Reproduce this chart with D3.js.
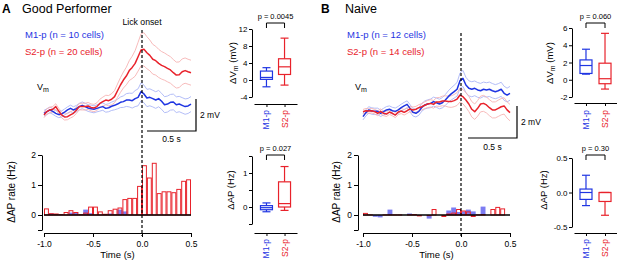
<!DOCTYPE html>
<html lang="en">
<head>
<meta charset="UTF-8">
<title>Vm and AP rate around lick onset</title>
<script src="https://d3js.org/d3.v7.min.js"></script>
<style>
  body { margin: 0; background: #fff; }
  svg { display: block; font-family: "Liberation Sans", Arial, sans-serif; }
</style>
</head>
<body>
<svg width="617" height="261"></svg>
<script>

// time of the averaged Vm samples (s, relative to lick onset)
var vmTime = [-1.00,-0.97,-0.94,-0.91,-0.88,-0.85,-0.82,-0.79,-0.76,-0.73,-0.70,-0.67,-0.64,-0.61,-0.58,-0.55,-0.52,
  -0.49,-0.46,-0.43,-0.40,-0.37,-0.34,-0.31,-0.28,-0.25,-0.22,-0.19,-0.16,-0.13,-0.10,-0.07,-0.04,-0.01,
  0.02,0.05,0.08,0.11,0.14,0.17,0.20,0.23,0.26,0.29,0.32,0.35,0.38,0.41,0.44,0.47,0.50];

// A, good performer: mean Vm (mV) and SEM
var vmA_M1 = [-0.02,0.09,0.19,0.10,-0.02,-0.10,-0.06,0.06,0.19,0.29,0.19,0.27,0.40,0.48,0.40,0.31,0.27,0.23,0.29,0.35,
  0.40,0.29,0.33,0.42,0.48,0.56,0.67,0.71,0.81,0.81,0.77,0.90,0.98,1.33,1.19,0.94,0.98,0.90,0.81,0.90,0.73,0.52,
  0.56,0.67,0.69,0.52,0.56,0.48,0.40,0.44,0.56];
var semA_M1 = [0.18,0.18,0.18,0.18,0.18,0.19,0.19,0.19,0.19,0.2,0.2,0.2,0.2,0.21,0.21,0.21,0.22,0.22,0.22,0.23,
  0.23,0.24,0.25,0.26,0.28,0.3,0.33,0.36,0.4,0.43,0.46,0.5,0.53,0.56,0.55,0.54,0.53,0.52,0.52,0.51,
  0.5,0.5,0.5,0.49,0.49,0.49,0.48,0.48,0.48,0.47,0.47];
var vmA_S2 = [-0.12,0.09,0.19,0.23,0.40,0.12,-0.12,-0.25,-0.23,-0.12,-0.02,0.17,0.40,0.40,0.40,0.44,0.35,0.31,0.40,
  0.60,0.71,0.81,0.77,0.86,1.02,1.39,1.75,2.06,2.31,2.65,2.85,3.10,3.52,3.94,3.98,3.77,3.60,3.36,3.27,3.10,2.98,
  2.90,2.79,2.69,2.52,2.37,2.39,2.58,2.65,2.58,2.52];
var semA_S2 = [0.17,0.17,0.17,0.18,0.18,0.18,0.18,0.19,0.19,0.19,0.2,0.2,0.2,0.21,0.21,0.22,0.22,0.23,0.24,0.26,
  0.28,0.3,0.32,0.35,0.38,0.42,0.46,0.5,0.55,0.62,0.7,0.8,0.9,1.0,1.04,1.0,0.96,0.93,0.9,0.88,
  0.86,0.85,0.84,0.83,0.82,0.81,0.8,0.8,0.79,0.78,0.78];

// B, naive
var vmB_M1 = [-0.29,-0.04,0.13,0.06,0.04,0.04,-0.08,0.02,0.13,0.17,0.08,0.04,0.13,0.27,0.38,0.48,0.23,-0.02,-0.08,
  0.04,0.29,0.44,0.50,0.54,0.65,0.58,0.50,0.58,0.75,0.96,1.13,1.27,1.42,1.96,2.10,1.69,1.48,1.42,1.48,1.38,1.33,
  1.42,1.38,1.42,1.33,1.27,1.33,1.42,1.17,1.06,1.17];
var semB_M1 = [0.2,0.2,0.2,0.2,0.2,0.2,0.2,0.21,0.21,0.21,0.21,0.21,0.22,0.22,0.22,0.22,0.23,0.23,0.23,0.24,
  0.24,0.25,0.26,0.27,0.28,0.29,0.3,0.32,0.34,0.36,0.38,0.4,0.43,0.48,0.5,0.48,0.47,0.47,0.46,0.46,
  0.46,0.45,0.45,0.45,0.45,0.44,0.44,0.44,0.44,0.43,0.43];
var vmB_S2 = [0.02,0.08,0.06,0.08,0.02,-0.08,0.04,-0.08,-0.13,0.00,-0.08,-0.19,0.00,0.06,-0.02,0.08,0.19,0.13,0.17,
  0.27,0.33,0.42,0.50,0.54,0.48,0.63,0.63,0.69,0.69,0.65,0.65,0.71,0.81,1.06,0.96,0.75,0.50,0.17,0.02,0.23,0.50,
  0.54,0.44,0.27,0.13,0.13,0.23,0.33,0.38,0.13,-0.04];
var semB_S2 = [0.14,0.14,0.14,0.14,0.14,0.15,0.15,0.15,0.15,0.15,0.16,0.16,0.16,0.16,0.17,0.17,0.17,0.18,0.18,0.19,
  0.2,0.21,0.22,0.23,0.24,0.26,0.28,0.3,0.32,0.34,0.36,0.38,0.4,0.43,0.45,0.46,0.47,0.48,0.48,0.49,
  0.49,0.5,0.5,0.5,0.5,0.5,0.51,0.51,0.51,0.51,0.51];

// AP rate histograms, 50 ms bins starting at these times (s)
var binStart = [-1.00,-0.95,-0.90,-0.85,-0.80,-0.75,-0.70,-0.65,-0.60,-0.55,-0.50,-0.45,-0.40,-0.35,-0.30,
  -0.25,-0.20,-0.15,-0.10,-0.05,0.00,0.05,0.10,0.15,0.20,0.25,0.30,0.35,0.40,0.45];
var apA_M1 = [0,0.05,0.03,0.02,0,0.08,0.10,0,0.18,0.06,0,0,0,0.05,0.02,0.18,0.12,0,0,0,0.02,0.01,0,0,0,0,0,0,0,0];
var apA_S2 = [0.22,0.06,0.05,0.03,0.10,0.16,0.10,0.03,0.08,0.28,0.28,0.12,0.04,0.16,0.21,0.25,0.53,0.57,0.57,0.97,
  1.66,1.25,1.74,0.73,0.79,0.79,0.76,0.87,1.14,1.19];
var apB_M1 = [0,0,-0.06,-0.08,0,0.18,0,0,0,0.05,0,-0.02,0,-0.12,0,0,0,0.15,0.25,0.10,0.12,0.18,0.12,0,0.28,0,0,0,0,0];
var apB_S2 = [0.07,0.02,0,0,0.02,0.02,0.02,0.02,0,0.02,0.03,-0.03,0,-0.02,0.2,0,-0.05,0.05,0.08,0.2,
  0.15,0.12,-0.05,0.02,0.03,0,0.2,0.27,0.22,0];

// box plots: [min, q1, median, q3, max]
var groups = ["M1-p", "S2-p"];
var boxVmA_M1 = [-1.6, 0.15, 0.6, 2.1, 2.9];
var boxVmA_S2 = [-1.2, 1.3, 3.1, 5.0, 9.85];
var boxApA_M1 = [-0.14, -0.08, -0.02, 0.04, 0.12];
var boxApA_S2 = [-0.1, 0, 0.1, 0.74, 1.19];
var boxVmB_M1 = [0.65, 0.73, 1.65, 2.3, 3.54];
var boxVmB_S2 = [-1.08, -0.46, 0.12, 1.92, 5.38];
var boxApB_M1 = [-0.19, -0.1, 0, 0.05, 0.25];
var boxApB_S2 = [-0.33, -0.13, 0, 0, 0];
var pVals = ["p = 0.0045", "p = 0.027", "p = 0.060", "p = 0.30"];

var blue = "#1f35e2", blueLight = "#aab6f6";
var red = "#e8222b", redLight = "#f6b3b3";
var histBlue = "#7c7cf2";

var svg = d3.select("svg");

function styleAxis(g, fs) {
    g.attr("font-family", null).attr("font-size", fs);
    g.selectAll("path, line").attr("stroke", "#000").attr("stroke-width", 1);
    g.selectAll("text").attr("fill", "#000");
}

function drawPanel(p) {
    var x = d3.scaleLinear().domain([-1, 0.5]).range([p.x0, p.x0 + 147]);
    var yVm = d3.scaleLinear().domain([0, 2]).range([p.vm0, p.vm0 - 32]);
    var yAp = d3.scaleLinear().domain([-0.5, 2]).range([230, 155]);
    var g = svg.append("g");

    g.append("text").attr("x", p.letterX).attr("y", 13)
        .attr("font-size", 12).attr("font-weight", "bold").text(p.letter);
    g.append("text").attr("x", p.titleX).attr("y", 13)
        .attr("font-size", 12.5).text(p.title);

    g.append("text").attr("x", p.legendX).attr("y", 38).attr("font-size", 9.5)
        .attr("fill", blue).text("M1-p (n = " + p.n[0] + " cells)");
    g.append("text").attr("x", p.legendX).attr("y", 55).attr("font-size", 9.5)
        .attr("fill", red).text("S2-p (n = " + p.n[1] + " cells)");

    if (p.lick) {
        g.append("text").attr("x", x(0)).attr("y", 25).attr("font-size", 8.7)
            .attr("text-anchor", "middle").text("Lick onset");
    }

    var vl = g.append("text").attr("x", p.vmLabelX).attr("y", 90).attr("font-size", 9);
    vl.append("tspan").text("V");
    vl.append("tspan").attr("font-size", 7).attr("dy", 2).text("m");

    // Vm traces: SEM as thin pale lines, mean on top
    var line = d3.line().x(function (d, i) { return x(vmTime[i]); }).y(function (d) { return yVm(d); });
    var traces = [[p.vmM1, p.semM1, blue, blueLight], [p.vmS2, p.semS2, red, redLight]];
    traces.forEach(function (t) {
        var up = t[0].map(function (m, i) { return m + t[1][i]; });
        var lo = t[0].map(function (m, i) { return m - t[1][i]; });
        [up, lo].forEach(function (s) {
            g.append("path").datum(s).attr("d", line).attr("fill", "none")
                .attr("stroke", t[3]).attr("stroke-width", 0.9);
        });
    });
    traces.forEach(function (t) {
        g.append("path").datum(t[0]).attr("d", line).attr("fill", "none")
            .attr("stroke", t[2]).attr("stroke-width", 1.5).attr("stroke-linejoin", "round");
    });

    // scale bar
    var w = x(0.5) - x(0), h = yVm(0) - yVm(2);
    var sb = p.scaleBar;
    g.append("path").attr("d", "M" + (sb.x - w) + "," + sb.y + "H" + sb.x + "V" + (sb.y - h))
        .attr("fill", "none").attr("stroke", "#000").attr("stroke-width", 1.2);
    g.append("text").attr("x", sb.x + 4).attr("y", sb.y - h / 2 + 3).attr("font-size", 8.5).text("2 mV");
    g.append("text").attr("x", sb.x - w / 2).attr("y", sb.textY).attr("font-size", 8.5)
        .attr("text-anchor", "middle").text("0.5 s");

    // AP rate histogram
    var bw = x(-0.95) - x(-1);
    g.append("g").selectAll("rect").data(p.apM1).join("rect")
        .attr("x", function (d, i) { return x(binStart[i]); })
        .attr("width", bw)
        .attr("y", function (d) { return yAp(Math.max(0, d)); })
        .attr("height", function (d) { return Math.abs(yAp(d) - yAp(0)); })
        .attr("fill", histBlue);
    g.append("g").selectAll("rect").data(p.apS2).join("rect")
        .attr("x", function (d, i) { return x(binStart[i]) + 0.5; })
        .attr("width", bw - 1)
        .attr("y", function (d) { return yAp(Math.max(0, d)) + 0.5; })
        .attr("height", function (d) { return Math.max(0, Math.abs(yAp(d) - yAp(0)) - 0.5); })
        .attr("fill", "none").attr("stroke", red).attr("stroke-width", 1)
        .attr("display", function (d) { return d === 0 ? "none" : null; });
    g.append("line").attr("x1", x(-1)).attr("x2", x(0.5)).attr("y1", yAp(0)).attr("y2", yAp(0))
        .attr("stroke", "#000").attr("stroke-width", 1.3);

    var ya = g.append("g").attr("transform", "translate(" + p.histAxisX + ",0)")
        .call(d3.axisLeft(yAp).tickValues([-0.5, 0, 1, 2]).tickSize(4).tickSizeOuter(0).tickPadding(2)
            .tickFormat(function (d) { return d === -0.5 ? "" : d; }));
    styleAxis(ya, 8.5);
    var xa = g.append("g").attr("transform", "translate(0,233)")
        .call(d3.axisBottom(x).tickValues([-1, -0.5, 0, 0.5]).tickSize(4).tickSizeOuter(0).tickPadding(4)
            .tickFormat(function (d) { return d.toFixed(1); }));
    styleAxis(xa, 8.5);

    g.append("text").attr("x", (x(-1) + x(0.5)) / 2).attr("y", 258).attr("font-size", 9.5)
        .attr("text-anchor", "middle").text("Time (s)");
    g.append("text").attr("transform", "translate(" + p.histLabelX + ",192) rotate(-90)")
        .attr("font-size", 10).attr("text-anchor", "middle").text("\u0394AP rate (Hz)");

    // lick onset marker
    g.append("line").attr("x1", x(0)).attr("x2", x(0)).attr("y1", p.dashTop).attr("y2", 236)
        .attr("stroke", "#000").attr("stroke-width", 1.2).attr("stroke-dasharray", "3,2");
}

function drawBoxes(b) {
    var g = svg.append("g");
    var y = d3.scaleLinear().domain(b.yDomain).range(b.yRange);
    var xb = d3.scalePoint().domain(groups).range(b.xRange).padding(b.pad);

    var ya = g.append("g").attr("transform", "translate(" + b.axisX + ",0)")
        .call(d3.axisLeft(y).tickValues(b.ticks).tickSize(3).tickSizeOuter(0).tickPadding(1.5)
            .tickFormat(b.fmt));
    styleAxis(ya, 8);
    var xa = g.append("g").attr("transform", "translate(0," + b.xAxisY + ")")
        .call(d3.axisBottom(xb).tickSize(3).tickSizeOuter(0).tickFormat(""));
    styleAxis(xa, 8);

    [[b.stats[0], blue], [b.stats[1], red]].forEach(function (s, i) {
        var c = xb(groups[i]), st = s[0], bw = 12, cw = 8;
        var bg = g.append("g").attr("stroke", s[1]).attr("stroke-width", 1.2).attr("fill", "none");
        bg.append("line").attr("x1", c).attr("x2", c).attr("y1", y(st[3])).attr("y2", y(st[4]));
        bg.append("line").attr("x1", c).attr("x2", c).attr("y1", y(st[1])).attr("y2", y(st[0]));
        bg.append("line").attr("x1", c - cw / 2).attr("x2", c + cw / 2).attr("y1", y(st[4])).attr("y2", y(st[4]));
        bg.append("line").attr("x1", c - cw / 2).attr("x2", c + cw / 2).attr("y1", y(st[0])).attr("y2", y(st[0]));
        bg.append("rect").attr("x", c - bw / 2).attr("width", bw)
            .attr("y", y(st[3])).attr("height", y(st[1]) - y(st[3])).attr("fill", "#fff");
        bg.append("line").attr("x1", c - bw / 2).attr("x2", c + bw / 2).attr("y1", y(st[2])).attr("y2", y(st[2]));

        g.append("text").attr("transform", "translate(" + (c + 3) + "," + b.labelTop + ") rotate(-90)")
            .attr("font-size", 8.5).attr("text-anchor", "end").attr("fill", s[1]).text(groups[i]);
    });

    var x1 = xb(groups[0]), x2 = xb(groups[1]);
    g.append("path").attr("d", "M" + x1 + "," + (b.bracketY + 5) + "V" + b.bracketY + "H" + x2 + "V" + (b.bracketY + 5))
        .attr("fill", "none").attr("stroke", "#000").attr("stroke-width", 1);
    g.append("text").attr("x", (x1 + x2) / 2).attr("y", b.bracketY - 4).attr("font-size", 7.5)
        .attr("text-anchor", "middle").text(b.p);

    var t = g.append("text").attr("transform", "translate(" + b.labelX + "," + b.labelY + ") rotate(-90)")
        .attr("font-size", 9.5).attr("text-anchor", "middle");
    if (b.vm) {
        t.append("tspan").text("\u0394V");
        t.append("tspan").attr("font-size", 7).attr("dy", 2).text("m");
        t.append("tspan").attr("dy", -2).text(" (mV)");
    } else {
        t.text("\u0394AP (Hz)");
    }
}

drawPanel({
    letter: "A", title: "Good Performer", letterX: 2, titleX: 22, legendX: 25, n: [10, 20], lick: true,
    x0: 44, vm0: 113, vmLabelX: 37, dashTop: 30, histAxisX: 42, histLabelX: 15,
    scaleBar: { x: 196, y: 131, textY: 142 },
    vmM1: vmA_M1, semM1: semA_M1, vmS2: vmA_S2, semS2: semA_S2, apM1: apA_M1, apS2: apA_S2
});
drawPanel({
    letter: "B", title: "Naive", letterX: 321, titleX: 345, legendX: 347, n: [12, 14], lick: false,
    x0: 363, vm0: 112, vmLabelX: 355, dashTop: 33, histAxisX: 358, histLabelX: 340,
    scaleBar: { x: 517, y: 138, textY: 150 },
    vmM1: vmB_M1, semM1: semB_M1, vmS2: vmB_S2, semS2: semB_S2, apM1: apB_M1, apS2: apB_S2
});

var fmtInt = function (d) { return d; };
drawBoxes({ vm: true, axisX: 252, xRange: [254, 297], pad: 0.69, yDomain: [-4, 12], yRange: [97, 29],
    ticks: [-4, 0, 4, 8, 12], fmt: fmtInt, xAxisY: 104, labelTop: 110, bracketY: 23,
    p: pVals[0], labelX: 236, labelY: 63, stats: [boxVmA_M1, boxVmA_S2] });
drawBoxes({ vm: false, axisX: 252, xRange: [254, 297], pad: 0.69, yDomain: [-0.5, 1.5], yRange: [224, 156],
    ticks: [-0.5, 0, 0.5, 1, 1.5], fmt: function (d) { return d === 0 || d === 1 ? d : ""; },
    xAxisY: 233, labelTop: 239, bracketY: 155,
    p: pVals[1], labelX: 234, labelY: 190, stats: [boxApA_M1, boxApA_S2] });
drawBoxes({ vm: true, axisX: 572, xRange: [574, 617], pad: 0.63, yDomain: [-2, 6], yRange: [97, 28],
    ticks: [-2, 0, 2, 4, 6], fmt: fmtInt, xAxisY: 103, labelTop: 110, bracketY: 23,
    p: pVals[2], labelX: 553, labelY: 63, stats: [boxVmB_M1, boxVmB_S2] });
drawBoxes({ vm: false, axisX: 572, xRange: [574, 617], pad: 0.63, yDomain: [-0.5, 0.5], yRange: [227, 158],
    ticks: [-0.5, 0, 0.5], fmt: function (d) { return d.toFixed(1); },
    xAxisY: 233, labelTop: 239, bracketY: 155,
    p: pVals[3], labelX: 547, labelY: 190, stats: [boxApB_M1, boxApB_S2] });

</script>
</body>
</html>
